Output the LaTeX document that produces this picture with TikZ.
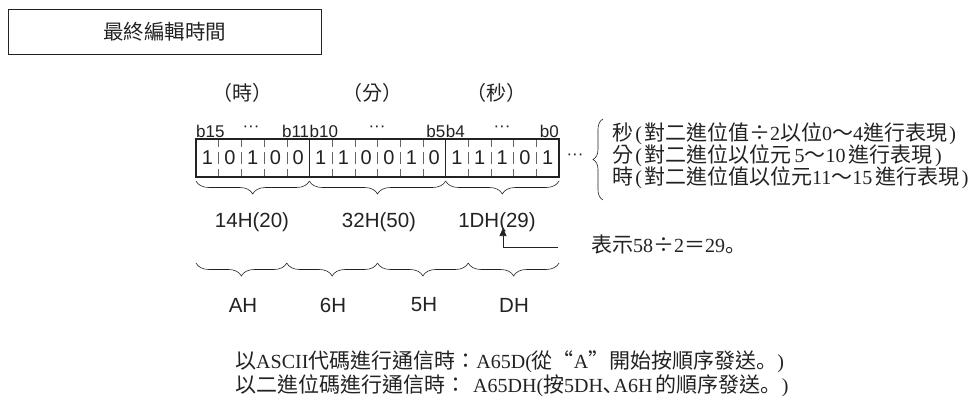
\documentclass[tikz,border=0pt]{standalone}
\usepackage{fontspec}
\setmainfont{Liberation Serif}
\newfontfamily\cjk{Noto Sans CJK TC}
\newfontfamily\cjkjp{Noto Sans CJK JP}
\newfontfamily\arial{Liberation Sans}
\usetikzlibrary{decorations.pathreplacing,arrows.meta}
\definecolor{ink}{HTML}{222222}
\newcommand\C[1]{{\cjk\fontsize{21}{25}\selectfont #1}}
\newcommand\J[1]{{\cjkjp\fontsize{21}{25}\selectfont #1}}
\newcommand\Cw[1]{\makebox[21pt]{\C{#1}}}
\newcommand\Pw[1]{\makebox[11pt]{#1}}
\tikzset{
  titlebox/.style={draw=ink,line width=0.8pt,minimum width=313pt,minimum height=45pt,inner sep=0pt,
    font=\cjk\fontsize{20.5}{24}\selectfont,text=ink},
  unitlbl/.style={font=\cjk\fontsize{20}{24}\selectfont,text=ink,inner sep=0pt},
  bitlbl/.style={font=\arial\fontsize{17}{20}\selectfont,text=ink,inner sep=0pt},
  digit/.style={font=\arial\fontsize{20}{24}\selectfont,text=ink,inner sep=0pt},
  hexlbl/.style={font=\arial\fontsize{20.5}{24}\selectfont,text=ink,inner sep=0pt},
  notelbl/.style={font=\fontsize{20}{25}\selectfont,text=ink,inner sep=0pt,anchor=west},
  bracedn/.style={decorate,decoration={brace,mirror,amplitude=13pt},line width=0.6pt,draw=ink},
  braceleft/.style={decorate,decoration={brace,amplitude=10pt},line width=0.6pt,draw=ink},
  innersep/.style={draw=ink!70,line width=0.45pt,dash pattern=on 8pt off 5pt on 12pt off 5pt on 8pt off 100pt},
}
\begin{document}
\begin{tikzpicture}[x=1pt,y=-1pt]
\useasboundingbox (0,0) rectangle (979,401);
% title
\node[titlebox] (title) at (164.5,31.5) {最終編輯時間};
% units
\node[unitlbl] (uh) at (242,93) {（時）};
\node[unitlbl] (um) at (372,93) {（分）};
\node[unitlbl] (us) at (496,93) {（秒）};
% bit labels
\node[bitlbl,anchor=west] (b15) at (196,131) {b15};
\node[bitlbl] (e1) at (251,129) {···};
\node[bitlbl,anchor=east] (b11) at (309.4,131) {b11};
\node[bitlbl,anchor=west] (b10) at (309.4,131) {b10};
\node[bitlbl] (e2) at (377,129) {···};
\node[bitlbl,anchor=east] (b5) at (445.6,131) {b5};
\node[bitlbl,anchor=west] (b4) at (445.6,131) {b4};
\node[bitlbl] (e3) at (502,129) {···};
\node[bitlbl,anchor=east] (b0) at (559,131) {b0};
% register
\foreach \k in {1,2,3,4,6,7,8,9,10,12,13,14,15}
  \draw[innersep] ({196+22.6875*\k},139) -- ({196+22.6875*\k},177);
\draw[ink,line width=0.7pt] (309.4,139) -- (309.4,177);
\draw[ink,line width=0.7pt] (445.6,139) -- (445.6,177);
\draw[ink,line width=1.6pt] (196,139) rectangle (559,177);
\foreach \d [count=\i from 0] in {1,0,1,0,0,1,1,0,0,1,0,1,1,1,0,1}
  \node[digit] (d\i) at ({196+22.6875*(\i+0.5)},158) {\d};
\node[bitlbl] (e4) at (575,157) {···};
% braces under register
\draw[bracedn] (196,181) -- (309.4,181);
\draw[bracedn] (309.4,181) -- (445.6,181);
\draw[bracedn] (445.6,181) -- (559,181);
% right brace and texts
\draw[braceleft] (603,200) -- (603,119);
\node[notelbl] (t1) at (612,134) {\C{秒}\Pw{(}\C{對二進位值}\Cw{÷}2\C{以位}0\C{～}4\C{進行表現}\Pw{)}};
\node[notelbl] (t2) at (612,156) {\C{分}\Pw{(}\C{對二進位以位元}\,5\C{～}10\,\C{進行表現}\Pw{)}};
\node[notelbl] (t3) at (612,178) {\C{時}\Pw{(}\C{對二進位值以位元}11\C{～}15\,\C{進行表現}\Pw{)}};
% hex values
\node[hexlbl] (h1) at (252,222) {14H(20)};
\node[hexlbl] (h2) at (379,222) {32H(50)};
\node[hexlbl] (h3) at (497,222) {1DH(29)};
% arrow note
\node[notelbl] (n1) at (591,245) {\C{表示}58\Cw{÷}2\C{＝}29\J{。}};
\coordinate (as) at (558,247);
\coordinate (at) at (503,228);
\draw[ink,line width=0.6pt,-{Triangle[length=8pt,width=7pt]}] (as) -| (at);
% second braces
\draw[bracedn] (196,263) -- (286.75,263);
\draw[bracedn] (286.75,263) -- (377.5,263);
\draw[bracedn] (377.5,263) -- (468.25,263);
\draw[bracedn] (468.25,263) -- (559,263);
\node[hexlbl] (a1) at (243,305) {AH};
\node[hexlbl] (a2) at (333,305) {6H};
\node[hexlbl] (a3) at (424,305) {5H};
\node[hexlbl] (a4) at (514,305) {DH};
% bottom text
\node[notelbl] (l1) at (235,362) {\C{以}ASCII\C{代碼進行通信時：}A65D(\C{從“}A\C{”開始按順序發送}\J{。})};
\node[notelbl] (l2) at (235,386) {\makebox[238pt][l]{\C{以二進位碼進行通信時：}}A65DH(\C{按}5DH\C{､}A6H\,\C{的順序發送}\J{。})};
\end{tikzpicture}
\end{document}
